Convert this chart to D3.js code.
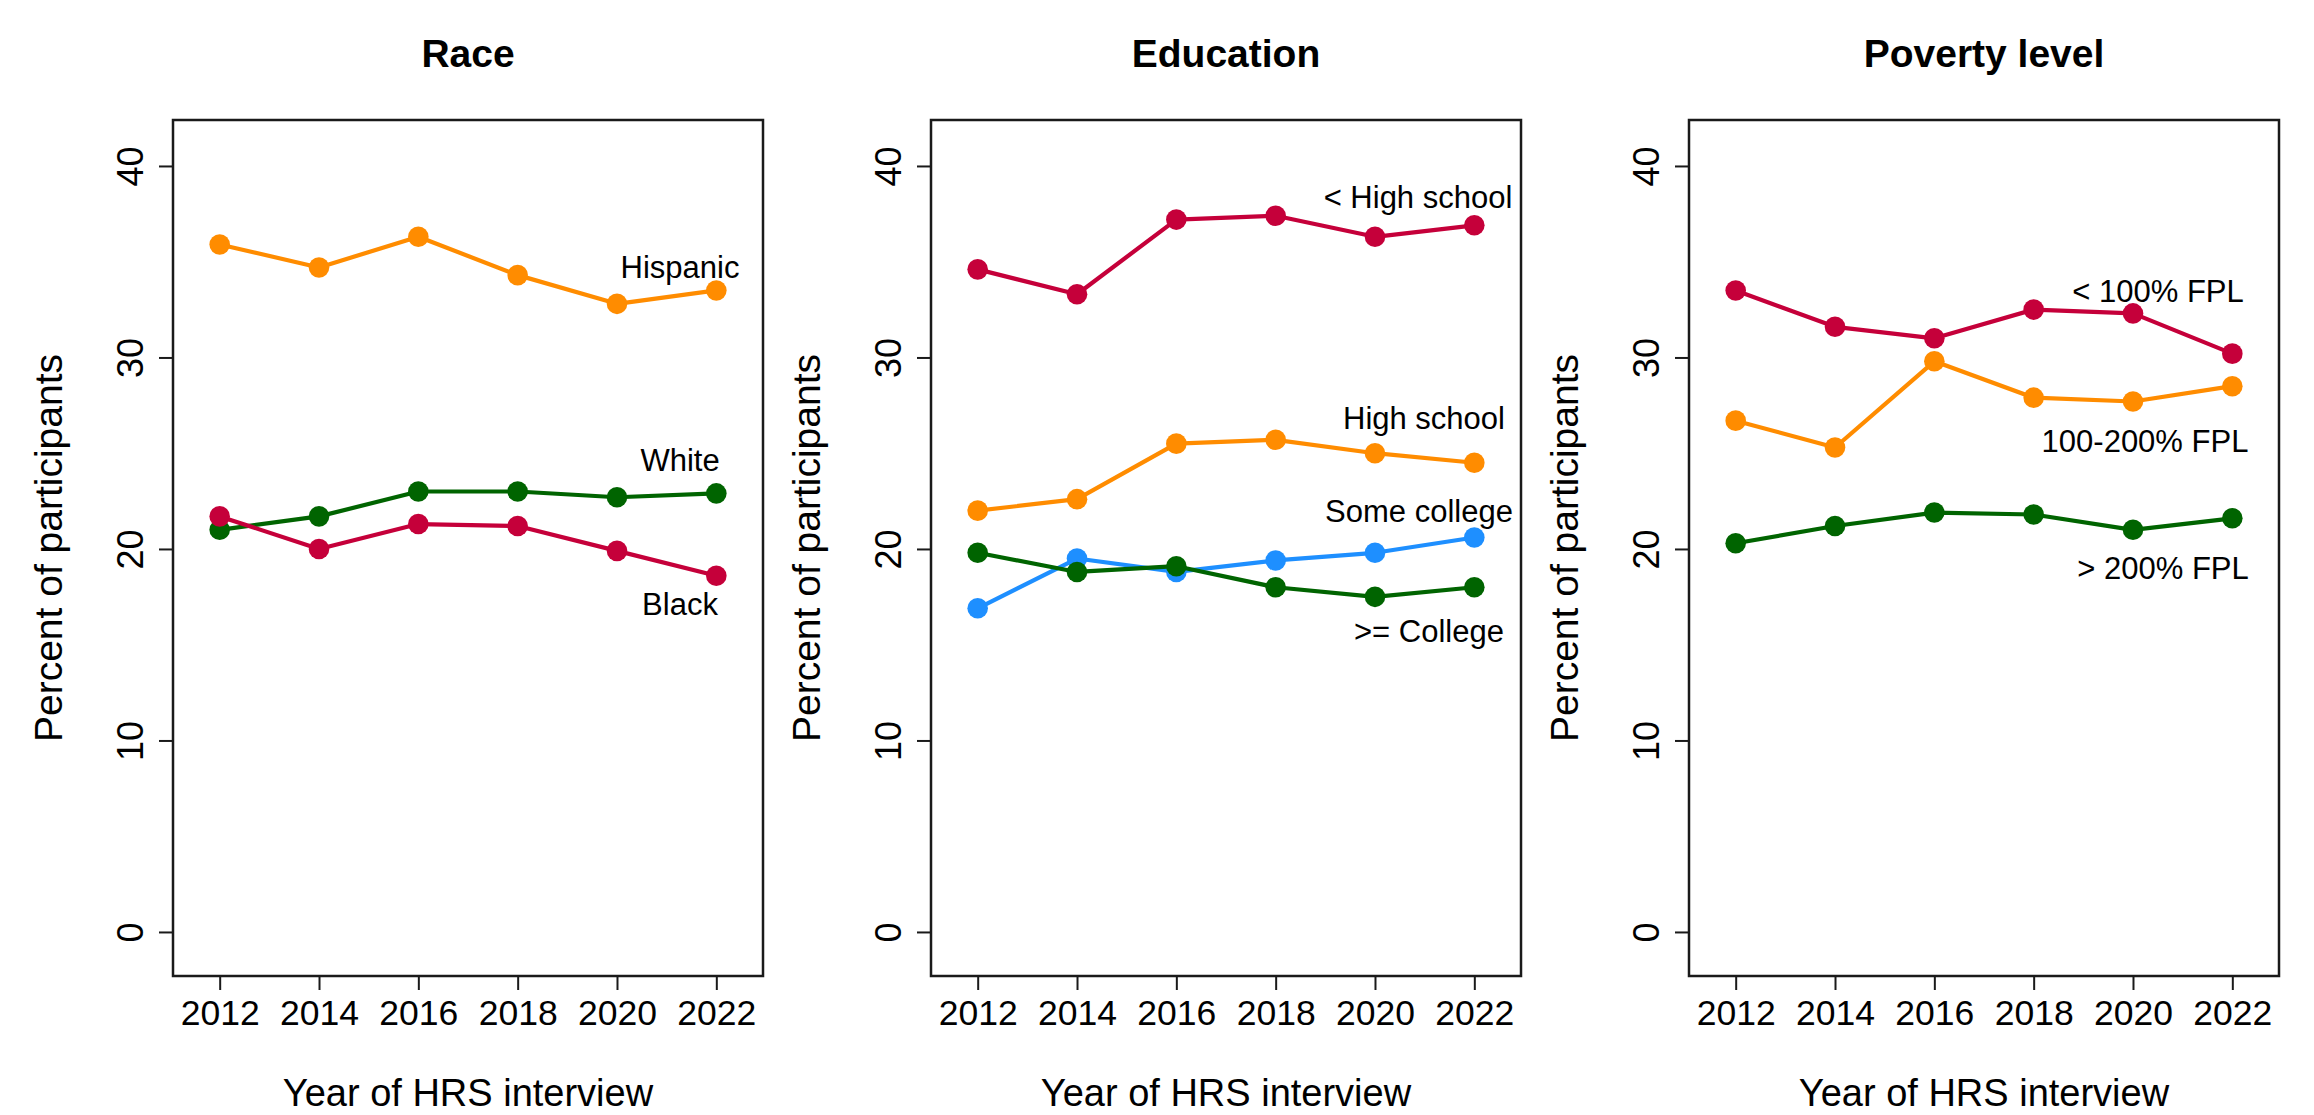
<!DOCTYPE html>
<html>
<head>
<meta charset="utf-8">
<script src="https://cdn.jsdelivr.net/npm/d3@7"></script>
<style>
  html, body { margin: 0; padding: 0; background: #fff; }
  svg { display: block; }
  text { font-family: "Liberation Sans", Arial, Helvetica, sans-serif; fill: #000; }
</style>
</head>
<body>
<script>
// Survey waves (HRS interview years)
const years = [2012, 2014, 2016, 2018, 2020, 2022];
const yTicks = [0, 10, 20, 30, 40];

// Race
const raceHispanic = [35.9, 34.7, 36.3, 34.3, 32.8, 33.5];
const raceWhite    = [21.0, 21.7, 23.0, 23.0, 22.7, 22.9];
const raceBlack    = [21.7, 20.0, 21.3, 21.2, 19.9, 18.6];

// Education
const eduLessHS      = [34.6, 33.3, 37.2, 37.4, 36.3, 36.9];
const eduHS          = [22.0, 22.6, 25.5, 25.7, 25.0, 24.5];
const eduSomeCollege = [16.9, 19.5, 18.8, 19.4, 19.8, 20.6];
const eduCollege     = [19.8, 18.8, 19.1, 18.0, 17.5, 18.0];

// Poverty level
const povUnder100 = [33.5, 31.6, 31.0, 32.5, 32.3, 30.2];
const pov100to200 = [26.7, 25.3, 29.8, 27.9, 27.7, 28.5];
const povOver200  = [20.3, 21.2, 21.9, 21.8, 21.0, 21.6];

const panelTitles = ["Race", "Education", "Poverty level"];
const xTitle = "Year of HRS interview";
const yTitle = "Percent of participants";

const colors = {
  orange: "#ff8c00",
  red: "#c5003a",
  green: "#006400",
  blue: "#1e8fff"
};

const panels = [
  {
    title: panelTitles[0],
    series: [
      { name: "Hispanic", values: raceHispanic, color: colors.orange, lx: 680, ly: 267 },
      { name: "White",    values: raceWhite,    color: colors.green,  lx: 680, ly: 460 },
      { name: "Black",    values: raceBlack,    color: colors.red,    lx: 680, ly: 604 }
    ]
  },
  {
    title: panelTitles[1],
    series: [
      { name: "< High school", values: eduLessHS,      color: colors.red,    lx: 660, ly: 197 },
      { name: "High school",   values: eduHS,          color: colors.orange, lx: 666, ly: 418 },
      { name: "Some college",  values: eduSomeCollege, color: colors.blue,   lx: 661, ly: 511 },
      { name: ">= College",    values: eduCollege,     color: colors.green,  lx: 671, ly: 631 }
    ]
  },
  {
    title: panelTitles[2],
    series: [
      { name: "< 100% FPL",   values: povUnder100, color: colors.red,    lx: 642, ly: 291 },
      { name: "100-200% FPL", values: pov100to200, color: colors.orange, lx: 629, ly: 441 },
      { name: "> 200% FPL",   values: povOver200,  color: colors.green,  lx: 647, ly: 568 }
    ]
  }
];

const W = 2314, H = 1115;
const boxW = 590, boxTop = 120, boxBottom = 976;
const panelLeft = [173, 931, 1689];

const svg = d3.select("body").append("svg")
  .attr("width", W).attr("height", H)
  .attr("viewBox", `0 0 ${W} ${H}`);

const y = d3.scaleLinear().domain([-2.3, 42.4]).range([boxBottom, boxTop]);

panels.forEach((p, i) => {
  const left = panelLeft[i];
  const x = d3.scaleLinear().domain([2011.06, 2022.94]).range([left, left + boxW]);
  const g = svg.append("g");

  // frame
  g.append("rect")
    .attr("x", left).attr("y", boxTop)
    .attr("width", boxW).attr("height", boxBottom - boxTop)
    .attr("fill", "none").attr("stroke", "#1a1a1a").attr("stroke-width", 2.5);

  // x axis
  const xAxis = d3.axisBottom(x).tickValues(years).tickFormat(d3.format("d"))
    .tickSize(14).tickPadding(8);
  const gx = g.append("g").attr("transform", `translate(0,${boxBottom})`).call(xAxis);
  gx.select(".domain").remove();
  gx.selectAll(".tick line").attr("stroke", "#1a1a1a").attr("stroke-width", 2);
  gx.selectAll(".tick text")
    .attr("font-size", 35.5).attr("font-family", "Liberation Sans, Arial, sans-serif")
    .attr("fill", "#000").attr("dy", null).attr("y", 49);

  // y axis, labels rotated like base R graphics
  const yAxis = d3.axisLeft(y).tickValues(yTicks).tickSize(14).tickFormat(d3.format("d"));
  const gy = g.append("g").attr("transform", `translate(${left},0)`).call(yAxis);
  gy.select(".domain").remove();
  gy.selectAll(".tick line").attr("stroke", "#1a1a1a").attr("stroke-width", 2);
  gy.selectAll(".tick text")
    .attr("font-size", 36).attr("font-family", "Liberation Sans, Arial, sans-serif")
    .attr("fill", "#000")
    .attr("x", null).attr("dy", null)
    .attr("text-anchor", "middle")
    .attr("transform", "translate(-30,0) rotate(-90)");

  // axis titles
  g.append("text")
    .attr("x", left + boxW / 2).attr("y", 1106)
    .attr("text-anchor", "middle").attr("font-size", 38)
    .text(xTitle);
  g.append("text")
    .attr("transform", `translate(${left - 111},${(boxTop + boxBottom) / 2}) rotate(-90)`)
    .attr("text-anchor", "middle").attr("font-size", 39)
    .text(yTitle);

  // panel title
  g.append("text")
    .attr("x", left + boxW / 2).attr("y", 67)
    .attr("text-anchor", "middle").attr("font-size", 39).attr("font-weight", "bold")
    .text(p.title);

  // series
  const line = d3.line().x((d, k) => x(years[k])).y(d => y(d));
  p.series.forEach(s => {
    g.append("path").datum(s.values)
      .attr("d", line).attr("fill", "none")
      .attr("stroke", s.color).attr("stroke-width", 4.2)
      .attr("stroke-linejoin", "round");
    g.selectAll(null).data(s.values).enter().append("circle")
      .attr("cx", (d, k) => x(years[k])).attr("cy", d => y(d))
      .attr("r", 10.3).attr("fill", s.color);
  });

  // series labels
  p.series.forEach(s => {
    g.append("text")
      .attr("x", left - 173 + s.lx).attr("y", s.ly)
      .attr("text-anchor", "middle").attr("dominant-baseline", "central")
      .attr("font-size", 31)
      .text(s.name);
  });
});
</script>
</body>
</html>
